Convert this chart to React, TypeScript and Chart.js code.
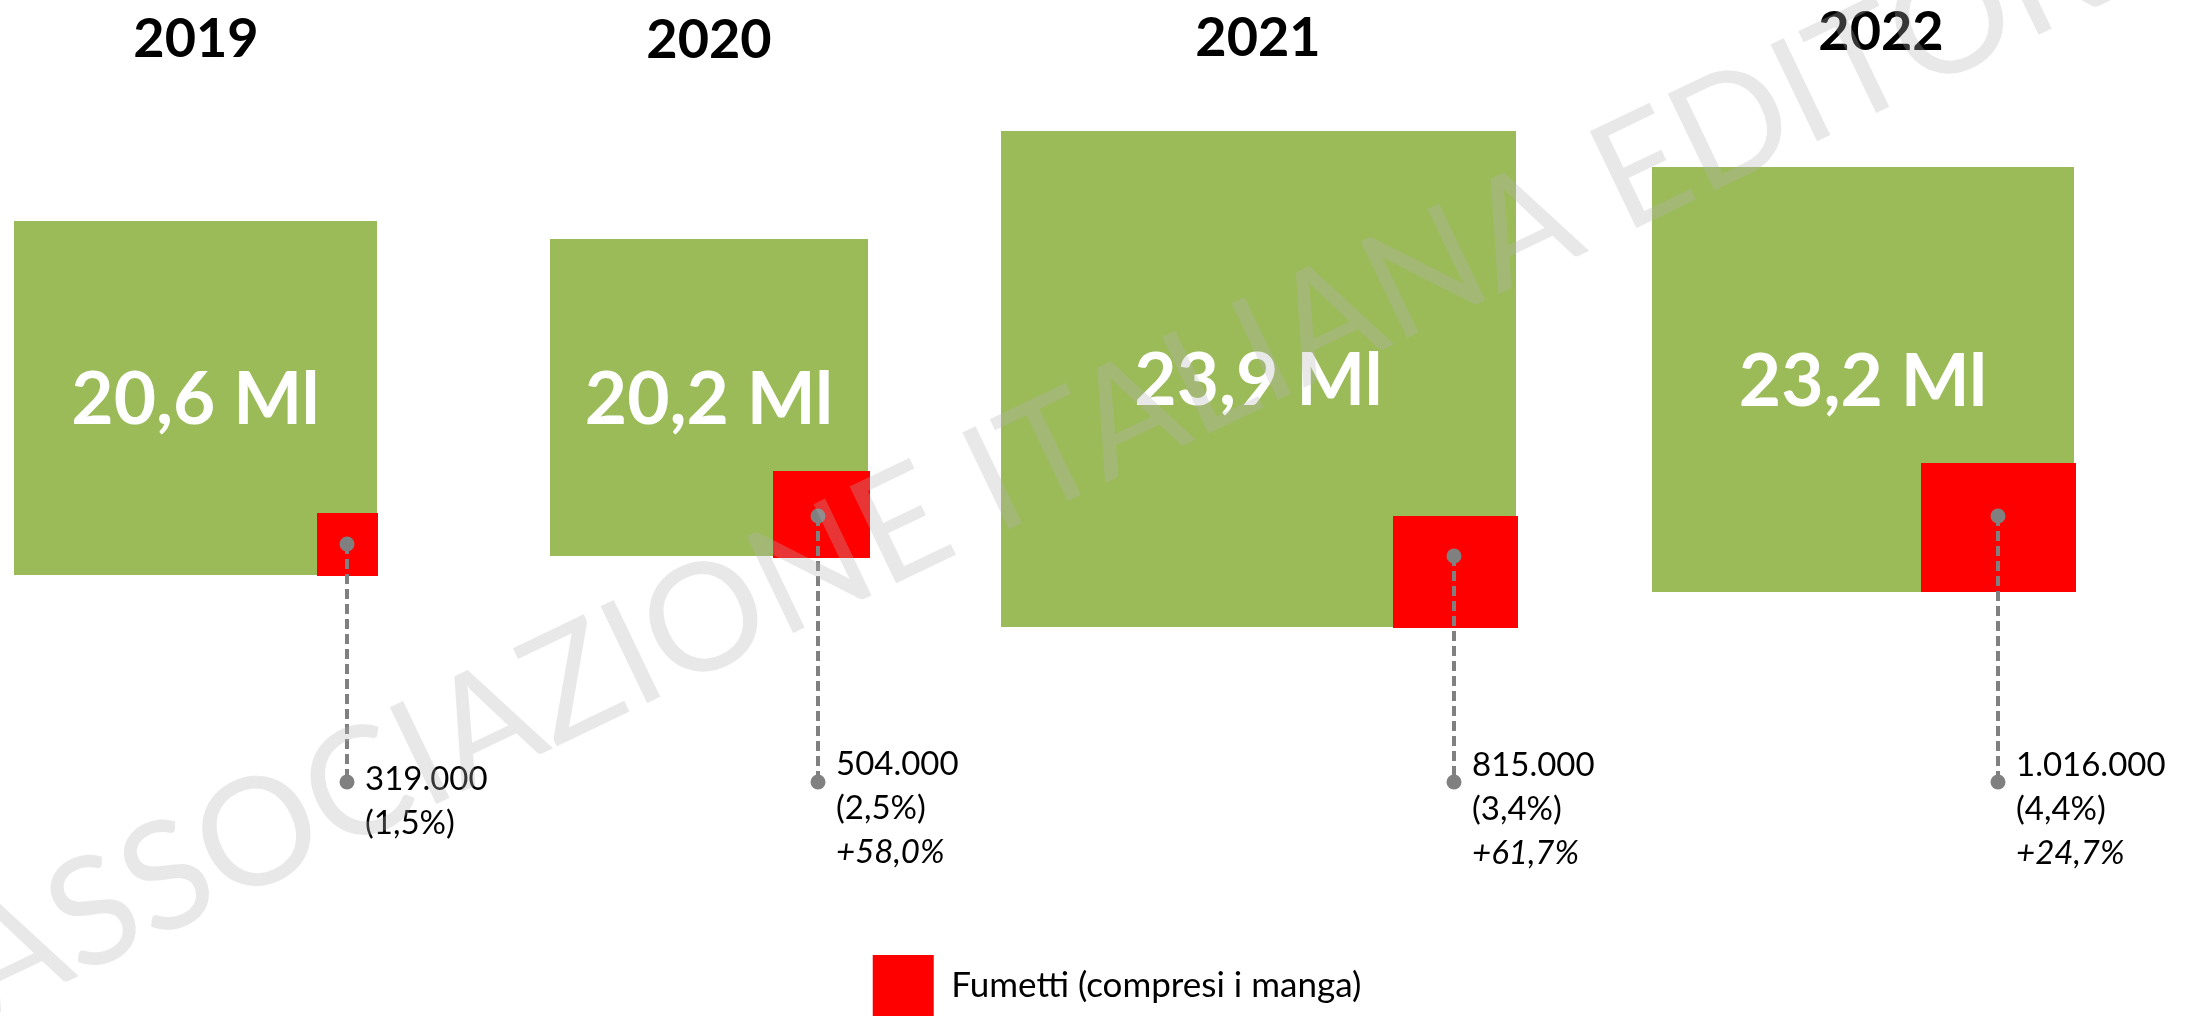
import React, { useEffect, useRef } from 'react';
import { Chart, registerables } from 'chart.js';

Chart.register(...registerables);

// ---------- data ----------
const years = ['2019', '2020', '2021', '2022'];
const totalCopiesMln = [20.6, 20.2, 23.9, 23.2];
const comicsCopies = [319000, 504000, 815000, 1016000];
const comicsSharePct = [1.5, 2.5, 3.4, 4.4];
const comicsGrowthPct: (number | null)[] = [null, 58.0, 61.7, 24.7];
const legendLabel = 'Fumetti (compresi i manga)';
const watermarkText = 'ASSOCIAZIONE ITALIANA EDITORI';

// ---------- layout (units of the hidden layout scales) ----------
const totalBox = [
  [14, 221, 377, 575],
  [550, 239, 868, 556],
  [1001, 131, 1516, 627],
  [1652, 167, 2074, 592],
];
const comicsBox = [
  [317, 513, 378, 576],
  [773, 471, 870, 558],
  [1393, 516, 1518, 628],
  [1921, 463, 2076, 592],
];
const leaderX = [347, 818, 1454, 1998];
const leaderTop = [544, 516, 556, 516];
const leaderBottom = 782;
const labelFirstBaseline = [790, 775, 776, 776];
const labelLineGap = 44;
const labelOffsetX = 18;
const titleX = [196, 709, 1258, 1881];
const titleBaseline = [57, 58, 56, 50];
const wmAnchorA = [443, 801];
const wmAnchorB = [1824, 138];
const wmIndexA = 5;
const wmIndexB = 24;
const legendShiftX = 21;

const GREEN = '#9BBB59';
const RED = '#FF0000';
const GRAY = '#808080';
const FONT = 'Lato';

const fmtInt = (n: number) => String(n).replace(/\B(?=(\d{3})+(?!\d))/g, '.');
const fmtDec = (v: number) => v.toFixed(1).replace('.', ',');

function rectDataset(b: number[], color: string, order: number) {
  const [l, t, r, bt] = b;
  return {
    type: 'line' as const,
    data: [
      { x: l, y: t },
      { x: r, y: t },
      { x: r, y: bt },
      { x: l, y: bt },
      { x: l, y: t },
    ],
    fill: 'shape',
    backgroundColor: color,
    borderColor: 'rgba(0,0,0,0)',
    borderWidth: 0,
    pointRadius: 0,
    pointHoverRadius: 0,
    tension: 0,
    order,
  };
}

const legendShiftPlugin = {
  id: 'legendShift',
  afterLayout(chart: any) {
    const lg = chart.legend;
    if (lg) {
      lg.left += legendShiftX;
      lg.right += legendShiftX;
    }
  },
};

const textPlugin = {
  id: 'infoTexts',
  afterDatasetsDraw(chart: any) {
    const { ctx } = chart;
    const xs = chart.scales.x;
    const ys = chart.scales.y;
    const px = (v: number) => xs.getPixelForValue(v);
    const py = (v: number) => ys.getPixelForValue(v);
    ctx.save();
    ctx.textBaseline = 'alphabetic';
    // year titles
    ctx.textAlign = 'center';
    ctx.fillStyle = '#000000';
    ctx.font = `bold 54px ${FONT}`;
    years.forEach((yr, i) => ctx.fillText(yr, px(titleX[i]), py(titleBaseline[i])));
    // totals inside green squares
    ctx.fillStyle = '#FFFFFF';
    const big = 73;
    ctx.font = `bold ${big}px ${FONT}`;
    totalBox.forEach(([l, t, r, b], i) => {
      const cx = (px(l) + px(r)) / 2;
      const cy = (py(t) + py(b)) / 2;
      ctx.fillText(`${fmtDec(totalCopiesMln[i])} Ml`, cx, cy + big * 0.36);
    });
    // comics labels
    ctx.textAlign = 'left';
    ctx.fillStyle = '#000000';
    years.forEach((_, i) => {
      const tx = px(leaderX[i] + labelOffsetX);
      const b0 = labelFirstBaseline[i];
      ctx.font = `33px ${FONT}`;
      ctx.fillText(fmtInt(comicsCopies[i]), tx, py(b0));
      ctx.fillText(`(${fmtDec(comicsSharePct[i])}%)`, tx, py(b0 + labelLineGap));
      const g = comicsGrowthPct[i];
      if (g !== null) {
        ctx.font = `italic 33px ${FONT}`;
        ctx.fillText(`+${fmtDec(g)}%`, tx, py(b0 + 2 * labelLineGap));
      }
    });
    ctx.restore();
  },
};

const watermarkPlugin = {
  id: 'watermark',
  afterDraw(chart: any) {
    const { ctx } = chart;
    const xs = chart.scales.x;
    const ys = chart.scales.y;
    const ax = xs.getPixelForValue(wmAnchorA[0]);
    const ay = ys.getPixelForValue(wmAnchorA[1]);
    const bx = xs.getPixelForValue(wmAnchorB[0]);
    const by = ys.getPixelForValue(wmAnchorB[1]);
    ctx.save();
    ctx.font = `100px ${FONT}`;
    const cen = (i: number) =>
      ctx.measureText(watermarkText.slice(0, i)).width + ctx.measureText(watermarkText[i]).width / 2;
    const ca = cen(wmIndexA);
    const cb = cen(wmIndexB);
    const dist = Math.hypot(bx - ax, by - ay);
    const size = (100 * dist) / (cb - ca);
    const ang = Math.atan2(by - ay, bx - ax);
    ctx.font = `${size}px ${FONT}`;
    ctx.translate(ax, ay);
    ctx.rotate(ang);
    ctx.fillStyle = 'rgba(180,180,180,0.3)';
    ctx.textAlign = 'left';
    ctx.textBaseline = 'alphabetic';
    ctx.fillText(watermarkText, (-ca * size) / 100, 0);
    ctx.restore();
  },
};

export default function App() {
  const ref = useRef<HTMLCanvasElement>(null);
  useEffect(() => {
    document.body.style.margin = '0';
    document.body.style.overflow = 'hidden';
    const datasets: any[] = [];
    // dots (top)
    const dots: { x: number; y: number }[] = [];
    leaderX.forEach((lx, i) => {
      dots.push({ x: lx, y: leaderTop[i] });
      dots.push({ x: lx, y: leaderBottom });
    });
    datasets.push({
      type: 'line',
      data: dots,
      showLine: false,
      pointRadius: 7.5,
      pointHoverRadius: 7.5,
      pointBackgroundColor: GRAY,
      pointBorderColor: GRAY,
      pointBorderWidth: 0,
      fill: false,
      order: 0,
    });
    leaderX.forEach((lx, i) => {
      datasets.push({
        type: 'line',
        data: [
          { x: lx, y: leaderTop[i] },
          { x: lx, y: leaderBottom },
        ],
        borderColor: GRAY,
        borderWidth: 4,
        borderDash: [10, 5],
        pointRadius: 0,
        fill: false,
        order: 1,
      });
    });
    comicsBox.forEach((b) => datasets.push(rectDataset(b, RED, 2)));
    totalBox.forEach((b) => datasets.push(rectDataset(b, GREEN, 3)));

    Chart.defaults.font.family = FONT;
    const chart = new Chart(ref.current as HTMLCanvasElement, {
      type: 'line',
      data: { datasets },
      options: {
        responsive: false,
        animation: false,
        devicePixelRatio: 1,
        events: [],
        layout: { autoPadding: false, padding: 0 },
        scales: {
          x: { type: 'linear', display: false, min: 0, max: 2192 },
          y: { type: 'linear', display: false, reverse: true, min: 0, max: 955 },
        },
        plugins: {
          legend: {
            position: 'bottom',
            maxHeight: 61,
            labels: {
              boxWidth: 61,
              boxHeight: 61,
              padding: 0,
              color: '#000000',
              font: { family: FONT, size: 35 },
              generateLabels: () => [
                {
                  text: legendLabel,
                  fillStyle: RED,
                  strokeStyle: RED,
                  lineWidth: 0,
                  hidden: false,
                  datasetIndex: 5,
                },
              ],
            },
          },
          tooltip: { enabled: false },
        },
      } as any,
      plugins: [legendShiftPlugin, textPlugin, watermarkPlugin],
    } as any);
    return () => chart.destroy();
  }, []);
  return (
    <div style={{ width: 2192, height: 1016, background: '#ffffff' }}>
      <canvas ref={ref} width={2192} height={1016} style={{ display: 'block' }} />
    </div>
  );
}
